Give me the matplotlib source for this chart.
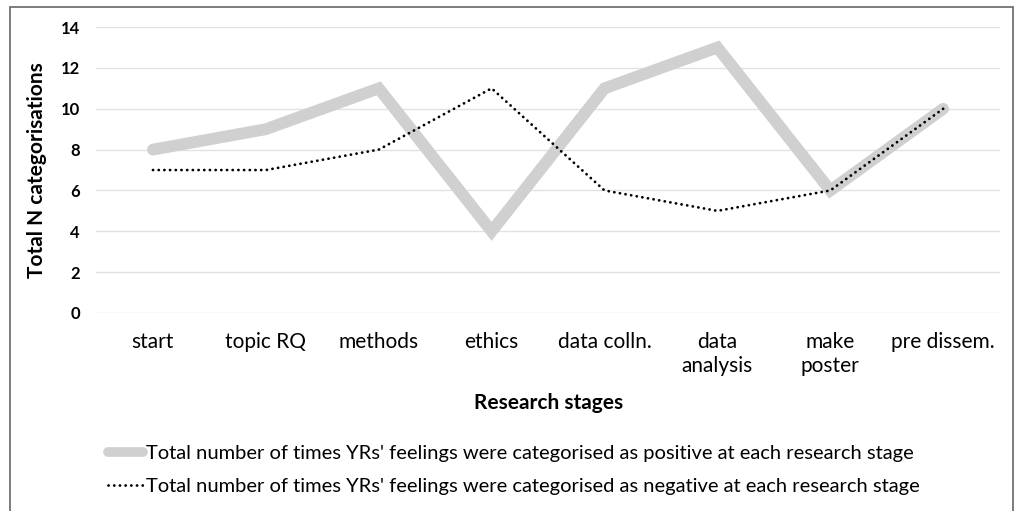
import numpy as np
import matplotlib.pyplot as plt
from matplotlib.patches import Rectangle

# Data
stages = ["start", "topic RQ", "methods", "ethics", "data colln.",
          "data\nanalysis", "make\nposter", "pre dissem."]
positive = [8, 9, 11, 4, 11, 13, 6, 10]
negative = [7, 7, 8, 11, 6, 5, 6, 10]
yticks = [0, 2, 4, 6, 8, 10, 12, 14]

plt.rcParams['font.family'] = ['Lato', 'DejaVu Sans']

fig = plt.figure(figsize=(10.19, 5.11), dpi=100)
ax = fig.add_axes([0.0947, 0.3875, 0.8863, 0.5595])

x = np.arange(len(stages))
ax.plot(x, positive, color='#d0d0d0', lw=8.5, solid_capstyle='round',
        solid_joinstyle='miter',
        label="Total number of times YRs' feelings were categorised as positive at each research stage")
ax.plot(x, negative, color='black', lw=2.0, linestyle=(0, (0.05, 2.0)),
        dash_capstyle='round',
        label="Total number of times YRs' feelings were categorised as negative at each research stage")

ax.set_xlim(-0.5, len(stages) - 0.5)
ax.set_ylim(0, 14)
ax.set_yticks(yticks)
ax.set_yticklabels([str(v) for v in yticks], fontweight='bold', fontsize=12)
ax.set_xticks(x)
ax.set_xticklabels(stages, fontsize=15, linespacing=1.25)
ax.tick_params(length=0)
ax.tick_params(axis='x', pad=14)
ax.tick_params(axis='y', pad=12)
ax.grid(axis='y', color='#e2e2e2', lw=1)
ax.set_axisbelow(True)
for s in ax.spines.values():
    s.set_visible(False)

ax.set_ylabel("Total N categorisations", fontweight='bold', fontsize=15, labelpad=10)
ax.set_xlabel("Research stages", fontweight='bold', fontsize=15, labelpad=12)

leg = fig.legend(loc='upper left', bbox_to_anchor=(0.088, 0.165), frameon=False,
                 handlelength=1.75, handletextpad=0.15, labelspacing=0.8,
                 prop={'size': 14.5})
leg.get_lines()[0].set_linewidth(7)

# outer border
fig.patches.append(Rectangle((10 / 1019, -0.05), 1003 / 1019, 1.05 - 7 / 511,
                             transform=fig.transFigure, fill=False,
                             edgecolor='#666666', lw=1.2))

fig.savefig("out.png", dpi=100)
